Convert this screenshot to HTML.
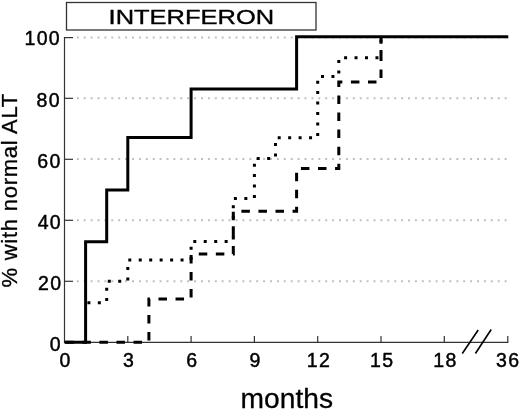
<!DOCTYPE html>
<html><head><meta charset="utf-8"><style>
html,body{margin:0;padding:0;background:#fff;}
body{width:520px;height:410px;overflow:hidden;}
svg{display:block;font-family:"Liberation Sans",sans-serif;will-change:transform;}
</style></head><body>
<svg width="520" height="410" viewBox="0 0 520 410">
<rect x="0" y="0" width="520" height="410" fill="#fff"/>
<rect x="66.5" y="2.5" width="249.5" height="27.5" fill="#fff" stroke="#333" stroke-width="1.3"/>
<text x="191.4" y="24" text-anchor="middle" font-size="20" fill="#000" stroke="#000" stroke-width="0.35" transform="translate(191.4,0) scale(1.275,1) translate(-191.4,0)">INTERFERON</text>
<g stroke="#c0c0c0" stroke-width="2" stroke-dasharray="2 4.9" fill="none">
<line x1="76.8" y1="37.599999999999994" x2="507" y2="37.599999999999994" />
<line x1="76.8" y1="98.3" x2="507" y2="98.3" />
<line x1="76.8" y1="159.0" x2="507" y2="159.0" />
<line x1="76.8" y1="220.2" x2="507" y2="220.2" />
<line x1="76.8" y1="281.2" x2="507" y2="281.2" />
</g>
<g stroke="#333" stroke-width="1.2" fill="none">
<line x1="64.5" y1="37" x2="64.5" y2="343" />
<line x1="64.5" y1="342.3" x2="508.3" y2="342.3" />
<line x1="64.5" y1="37.6" x2="73" y2="37.6" />
<line x1="64.5" y1="98.3" x2="73" y2="98.3" />
<line x1="64.5" y1="159.3" x2="73" y2="159.3" />
<line x1="64.5" y1="220.3" x2="73" y2="220.3" />
<line x1="64.5" y1="281.3" x2="73" y2="281.3" />
<line x1="64.5" y1="342.3" x2="73" y2="342.3" />
<line x1="127.8" y1="336" x2="127.8" y2="342.3" />
<line x1="191.1" y1="336" x2="191.1" y2="342.3" />
<line x1="254.4" y1="336" x2="254.4" y2="342.3" />
<line x1="317.7" y1="336" x2="317.7" y2="342.3" />
<line x1="381.0" y1="336" x2="381.0" y2="342.3" />
<line x1="444.3" y1="336" x2="444.3" y2="342.3" />
<line x1="507.8" y1="336" x2="507.8" y2="342.3" />
</g>
<g stroke="#000" stroke-width="1.6">
<line x1="462.3" y1="353.5" x2="478.2" y2="330"/>
<line x1="475.4" y1="353.5" x2="491.2" y2="329.5"/>
</g>
<path d="M64.5,342.3 H148.9 V299.0 H191.1 V254.0 H233.3 V211.3 H296.6 V168.5 H338.8 V82.0 H381.0 V36.8" fill="none" stroke="#000" stroke-width="3" stroke-dasharray="8.5 8.56" stroke-dashoffset="-0.8"/>
<path d="M85.6,302.7 H106.7 V281.3 H127.8 V260.0 H191.1 V241.4 H233.3 V198.4 H254.4 V158.5 H275.5 V137.7 H317.7 V76.5 H338.8 V57.8 H381.0 V36.8" fill="none" stroke="#000" stroke-width="3" stroke-dasharray="0 10.45" stroke-dashoffset="-3.3" stroke-linecap="square"/>
<path d="M64.5,342.3 H85.6 V241.7 H106.7 V190.1 H127.8 V137.5 H191.1 V89.0 H296.6 V36.8 H508.3" fill="none" stroke="#000" stroke-width="3" stroke-linejoin="miter"/>
<g font-size="19.5" fill="#000" letter-spacing="1.3" stroke="#000" stroke-width="0.45">
<text x="61.0" y="45.4" text-anchor="end">100</text>
<text x="60.8" y="106.9" text-anchor="end">80</text>
<text x="61.6" y="168.1" text-anchor="end">60</text>
<text x="62.0" y="229.4" text-anchor="end">40</text>
<text x="62.4" y="290.2" text-anchor="end">20</text>
<text x="61.9" y="351.4" text-anchor="end">0</text>
<text x="65.7" y="367.3" text-anchor="middle">0</text>
<text x="129.0" y="367.3" text-anchor="middle">3</text>
<text x="192.3" y="367.3" text-anchor="middle">6</text>
<text x="255.6" y="367.3" text-anchor="middle">9</text>
<text x="318.9" y="367.3" text-anchor="middle">12</text>
<text x="382.2" y="367.3" text-anchor="middle">15</text>
<text x="445.5" y="367.3" text-anchor="middle">18</text>
<text x="508.2" y="367.3" text-anchor="middle">36</text>
</g>
<text x="286.8" y="407.6" text-anchor="middle" font-size="28.2" fill="#000" stroke="#000" stroke-width="0.3">months</text>
<text transform="translate(17.2,190.2) rotate(-90)" text-anchor="middle" font-size="22" letter-spacing="0.75" fill="#000" stroke="#000" stroke-width="0.3">% with normal ALT</text>
</svg>
</body></html>
